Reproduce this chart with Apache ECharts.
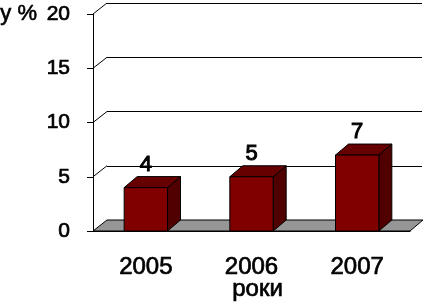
<!DOCTYPE html>
<html><head><meta charset="utf-8">
<script src="https://cdn.jsdelivr.net/npm/echarts@6/dist/echarts.min.js"></script>
<style>html,body{margin:0;padding:0;background:#fff}#c{width:426px;height:302px}</style>
</head><body><div id="c"></div>
<script>
var categories = ['2005', '2006', '2007'];
var values = [4, 5, 7];
var yTicks = [0, 5, 10, 15, 20];
var yName = 'y %';
var xName = 'роки';

var FONT = '"Liberation Sans", Arial, sans-serif';
var DX = 14, DY = -11;   // wall depth
var BDX = 13, BDY = -11; // bar depth
var THICK = {textBorderColor: '#000', textBorderWidth: 0.7};

var chart = echarts.init(document.getElementById('c'), null, {renderer: 'canvas'});
chart.setOption({
  animation: false,
  backgroundColor: '#fff',
  grid: [
    {left: 93, right: 16, top: 14, bottom: 71, outerBoundsMode: 'none', containLabel: false},
    {left: 107, right: 4, top: 3, bottom: 82, outerBoundsMode: 'none', containLabel: false}
  ],
  xAxis: [
    {type: 'category', gridIndex: 0, data: categories, boundaryGap: true,
     axisLine: {lineStyle: {color: '#000', width: 1}},
     axisTick: {length: 7, lineStyle: {color: '#000'}},
     axisLabel: Object.assign({color: '#000', fontSize: 24, fontFamily: FONT, margin: 24}, THICK),
     name: xName, nameLocation: 'middle', nameGap: 46, nameMoveOverlap: false,
     nameTextStyle: Object.assign({color: '#000', fontSize: 24, fontFamily: FONT, padding: [0, 0, 0, 12]}, THICK)
    },
    {type: 'category', gridIndex: 1, data: categories, show: false}
  ],
  yAxis: [
    {type: 'value', gridIndex: 0, min: 0, max: 20, interval: 5,
     axisLine: {show: true, lineStyle: {color: '#000', width: 1}},
     axisTick: {show: true, length: 6, lineStyle: {color: '#000'}},
     axisLabel: Object.assign({color: '#000', fontSize: 21, fontFamily: FONT, margin: 23}, THICK),
     splitLine: {show: false}
    },
    {type: 'value', gridIndex: 1, min: 0, max: 20, interval: 5,
     axisLine: {show: false}, axisTick: {show: false}, axisLabel: {show: false},
     splitLine: {show: true, lineStyle: {color: '#000', width: 1}}
    }
  ],
  graphic: [
    {type: 'text', left: 0, top: 3, style: {text: yName, fill: '#000', font: '22px ' + FONT, stroke: '#000', lineWidth: 0.6}}
  ],
  series: [
    {
      type: 'custom', xAxisIndex: 0, yAxisIndex: 0, z: 1,
      data: [[0]],
      renderItem: function (params, api) {
        var cs = params.coordSys;
        var y0 = api.coord([0, 0])[1];
        var x0 = cs.x, x1 = cs.x + cs.width;
        var children = [{
          type: 'polygon',
          shape: {points: [[x0, y0], [x1, y0], [x1 + DX - 1, y0 + DY], [x0 + DX, y0 + DY]]},
          style: {fill: '#969696', stroke: '#000', lineWidth: 1}
        }];
        yTicks.forEach(function (t) {
          if (t === 0) return;
          var y = cs.y + cs.height * (1 - t / 20);
          children.push({type: 'line', shape: {x1: x0, y1: y, x2: x0 + DX, y2: y + DY},
            style: {stroke: '#000', lineWidth: 1}});
        });
        return {type: 'group', children: children};
      }
    },
    {
      type: 'custom', xAxisIndex: 0, yAxisIndex: 0, z: 3,
      data: values.map(function (v, i) { return [i, v]; }),
      renderItem: function (params, api) {
        var i = api.value(0), v = api.value(1);
        var top = api.coord([i, v]);
        var base = api.coord([i, 0]);
        var w = api.size([1, 0])[0] * 0.41;
        var xl = top[0] - w / 2, xr = top[0] + w / 2, yt = top[1], yb = base[1];
        return {type: 'group', children: [
          {type: 'polygon', shape: {points: [[xr, yt], [xr + BDX, yt + BDY], [xr + BDX, yb + BDY], [xr, yb]]},
           style: {fill: '#500000', stroke: '#000', lineWidth: 1}},
          {type: 'polygon', shape: {points: [[xl, yt], [xr, yt], [xr + BDX, yt + BDY], [xl + BDX, yt + BDY]]},
           style: {fill: '#660000', stroke: '#000', lineWidth: 1}},
          {type: 'rect', shape: {x: xl, y: yt, width: w, height: yb - yt},
           style: {fill: '#800000', stroke: '#000', lineWidth: 1}},
          {type: 'text', x: top[0], y: yt - 23,
           style: {text: String(v), fill: '#000', fontSize: 22, fontFamily: FONT, align: 'center', verticalAlign: 'middle',
                   stroke: '#000', lineWidth: 1}}
        ]};
      }
    }
  ]
});
</script></body></html>
